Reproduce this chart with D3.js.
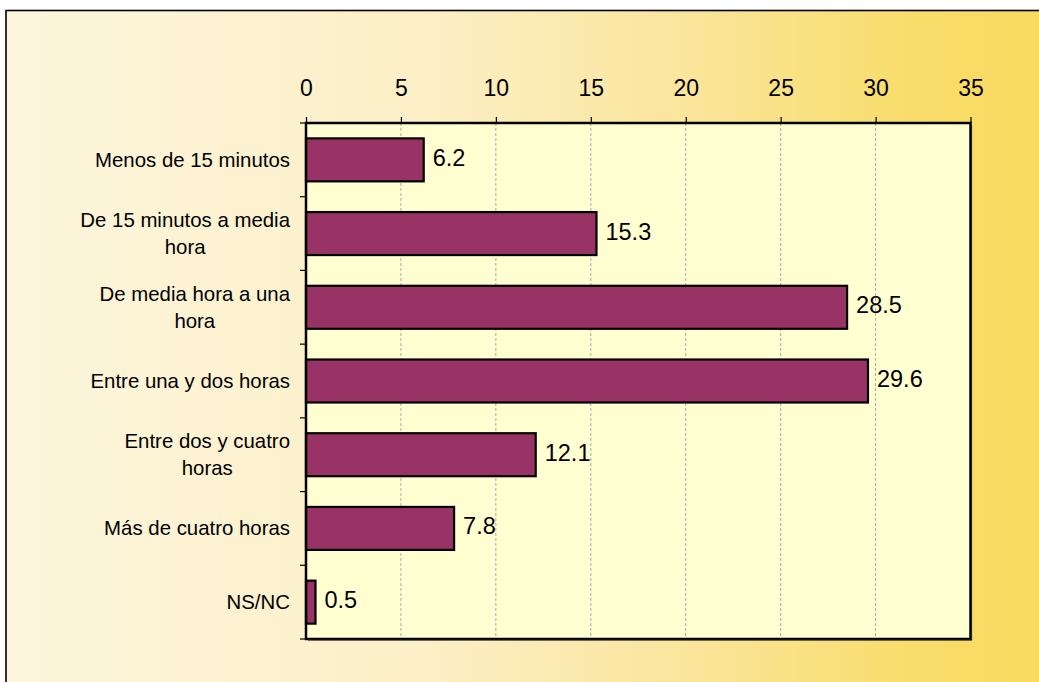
<!DOCTYPE html>
<html>
<head>
<meta charset="utf-8">
<script src="https://cdn.jsdelivr.net/npm/d3@7"></script>
<style>
  html, body { margin: 0; padding: 0; background: #ffffff; }
  svg { display: block; font-family: "Liberation Sans", Arial, sans-serif; }
</style>
</head>
<body>
<svg id="chart" width="1039" height="682"></svg>
<script>
const categories = [
  "Menos de 15 minutos",
  "De 15 minutos a media|hora",
  "De media hora a una|hora",
  "Entre una y dos horas",
  "Entre dos y cuatro|horas",
  "Más de cuatro horas",
  "NS/NC"
];
const values = [6.2, 15.3, 28.5, 29.6, 12.1, 7.8, 0.5];
const valueLabels = ["6.2", "15.3", "28.5", "29.6", "12.1", "7.8", "0.5"];
const xTicks = [0, 5, 10, 15, 20, 25, 30, 35];

const W = 1039, H = 682;
const svg = d3.select("#chart");
const defs = svg.append("defs");
const grad = defs.append("linearGradient").attr("id", "bg").attr("x1", "0").attr("x2", "1").attr("y1", "0").attr("y2", "0");
[["0%", "#fdf6dd"], ["40%", "#fcefc6"], ["65%", "#fae59a"], ["85%", "#f9dd6c"], ["100%", "#f8da5d"]]
  .forEach(([o, c]) => grad.append("stop").attr("offset", o).attr("stop-color", c));

// outer frame
svg.append("rect").attr("x", 6).attr("y", 10.5).attr("width", W + 20).attr("height", H + 20)
  .attr("fill", "url(#bg)").attr("stroke", "#000").attr("stroke-width", 1.6);

const plot = { left: 306, right: 970.5, top: 123, bottom: 639 };

const x = d3.scaleLinear().domain([0, 35]).range([plot.left, plot.right]);
const y = d3.scaleBand().domain(categories).range([plot.top, plot.bottom])
  .paddingInner(0.417).paddingOuter(0.2085);

// plot area
svg.append("rect").attr("x", plot.left).attr("y", plot.top)
  .attr("width", plot.right - plot.left).attr("height", plot.bottom - plot.top)
  .attr("fill", "#ffffd1");

// gridlines
svg.append("g").selectAll("line").data(xTicks.filter(t => t > 0 && t < 35)).join("line")
  .attr("x1", d => x(d)).attr("x2", d => x(d))
  .attr("y1", plot.top).attr("y2", plot.bottom)
  .attr("stroke", "#a8a8a8").attr("stroke-width", 1).attr("stroke-dasharray", "3,2");

// bars
svg.append("g").selectAll("rect").data(values).join("rect")
  .attr("x", x(0))
  .attr("y", (d, i) => y(categories[i]))
  .attr("width", d => x(d) - x(0))
  .attr("height", y.bandwidth())
  .attr("fill", "#993366")
  .attr("stroke", "#000").attr("stroke-width", 2.2);

// value labels
svg.append("g").selectAll("text").data(values).join("text")
  .attr("x", d => x(d) + 9)
  .attr("y", (d, i) => y(categories[i]) + y.bandwidth() / 2 + 6)
  .attr("font-size", 23.5).attr("fill", "#000")
  .text((d, i) => valueLabels[i]);

// plot border (right & bottom with shadow)
svg.append("rect").attr("x", plot.left).attr("y", plot.top)
  .attr("width", plot.right - plot.left).attr("height", plot.bottom - plot.top)
  .attr("fill", "none").attr("stroke", "#000").attr("stroke-width", 2.5);
svg.append("path")
  .attr("d", `M${plot.right + 1},${plot.top + 2} V${plot.bottom + 1} H${plot.left + 2}`)
  .attr("fill", "none").attr("stroke", "#222").attr("stroke-width", 1.2);

// top axis
const xAxis = d3.axisTop(x).tickValues(xTicks).tickSize(6).tickPadding(21).tickFormat(d3.format("d"));
const gx = svg.append("g").attr("transform", `translate(0,${plot.top})`).call(xAxis);
gx.select(".domain").remove();
gx.selectAll(".tick line").attr("stroke", "#000").attr("stroke-width", 1.2);
gx.selectAll(".tick text").attr("font-size", 23).attr("font-family", "Liberation Sans, Arial, sans-serif").attr("fill", "#000");

// left category ticks
const bounds = d3.range(categories.length + 1).map(i => plot.top + i * y.step());
svg.append("g").selectAll("line").data(bounds).join("line")
  .attr("x1", plot.left - 6).attr("x2", plot.left)
  .attr("y1", d => d).attr("y2", d => d)
  .attr("stroke", "#000").attr("stroke-width", 1.2);

// category labels
const lineH = 26.7;
const labelRight = 290;
const gl = svg.append("g").attr("font-size", 20.4).attr("fill", "#000");
categories.forEach((c, i) => {
  const lines = c.split("|");
  const cy = y(c) + y.bandwidth() / 2;
  const t = gl.append("text");
  const tspans = lines.map((ln, k) => t.append("tspan").text(ln));
  const widths = tspans.map(s => s.node().getComputedTextLength());
  const maxW = d3.max(widths);
  const cx = labelRight - maxW / 2;
  const first = cy + 7 - (lines.length - 1) * lineH / 2;
  tspans.forEach((s, k) => s.attr("x", cx).attr("y", first + k * lineH).attr("text-anchor", "middle"));
});
</script>
</body>
</html>
